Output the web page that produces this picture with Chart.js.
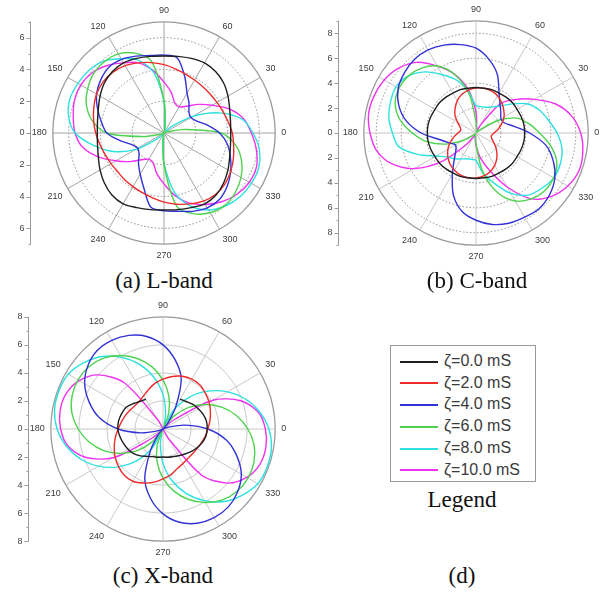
<!DOCTYPE html>
<html>
<head>
<meta charset="utf-8">
<script src="https://cdn.jsdelivr.net/npm/chart.js@4.4.4/dist/chart.umd.min.js"></script>
<style>
  body { margin: 0; background: #fff; }
  #page { position: relative; width: 602px; height: 592px; overflow: hidden; background: #fff; }
  canvas { position: absolute; }
  .cap { position: absolute; width: 200px; text-align: center; font: 23px "Liberation Serif", "Times New Roman", serif; color: #111; line-height: 26px; }
  #legend { position: absolute; left: 390px; top: 345px; width: 146px; height: 137px; box-sizing: border-box; border: 1px solid #999; }
  .row { position: absolute; left: 9px; height: 20px; line-height: 20px; white-space: nowrap; font: 16px "Liberation Sans", Arial, sans-serif; color: #3a3a3a; }
  .sw { display: inline-block; width: 38px; height: 2px; vertical-align: middle; margin-right: 6px; }
</style>
</head>
<body>
<div id="page">
  <canvas id="chartL"></canvas>
  <canvas id="chartC"></canvas>
  <canvas id="chartX"></canvas>
  <div class="cap" style="left:64px;top:268px">(a) L-band</div>
  <div class="cap" style="left:377px;top:268px">(b) C-band</div>
  <div class="cap" style="left:63px;top:563px">(c) X-band</div>
  <div class="cap" style="left:362px;top:563px">(d)</div>
  <div class="cap" style="left:362px;top:487px">Legend</div>
  <div id="legend"></div>
</div>
<script>
// angle of every sample, degrees (0 = right, counter-clockwise)
const angles = [0,10,20,30,40,50,60,70,80,90,100,110,120,130,140,150,160,170,
                180,190,200,210,220,230,240,250,260,270,280,290,300,310,320,330,340,350];

const seriesNames = ['ζ=0.0 mS', 'ζ=2.0 mS', 'ζ=4.0 mS', 'ζ=6.0 mS', 'ζ=8.0 mS', 'ζ=10.0 mS'];
const seriesColors = ['#1e1e1e', '#ee2b2b', '#3232d6', '#4fd24f', '#2fe0e0', '#f032f0'];

// L-band
const lZeta0  = [4.2,4.25,4.4,4.65,4.9,5.05,5.1,5.0,4.9,4.85,4.9,5.0,5.1,5.05,4.9,4.65,4.4,4.25,
                 4.2,4.25,4.4,4.65,4.9,5.1,5.15,5.0,4.9,4.85,4.9,5.0,5.15,5.1,4.9,4.65,4.4,4.25];
const lZeta2  = [4.3,4.1,3.95,3.85,3.8,3.8,3.85,3.95,4.1,4.3,4.5,4.7,4.9,5.0,5.0,4.9,4.7,4.5,
                 4.3,4.1,3.95,3.85,3.8,3.85,3.9,4.0,4.15,4.35,4.55,4.75,4.95,5.05,5.0,4.85,4.65,4.45];
const lZeta4  = [3.5,2.8,2.2,1.95,2.05,2.45,2.9,3.8,4.8,4.9,4.95,5.15,5.35,5.4,5.2,4.9,4.45,4.0,
                 3.6,2.8,2.15,1.9,2.05,2.5,3.0,3.7,4.75,4.9,5.0,5.25,5.45,5.45,5.2,4.85,4.45,4.05];
const lZeta6  = [3.6,1.3,0.2,0,0,0,0,0,0.2,2.0,4.6,5.35,5.75,5.85,5.8,5.55,5.2,4.6,
                 3.6,1.3,0.2,0,0,0,0,0,0.2,2.0,4.7,5.4,5.8,5.95,5.85,5.6,5.2,4.6];
const lZeta8  = [5.6,5.0,3.7,2.1,0.7,0.1,0,0.1,0.5,2.0,3.9,4.9,5.4,5.9,6.15,6.25,6.3,6.1,
                 5.6,4.5,3.4,2.1,0.6,0.1,0,0.1,0.5,1.9,3.8,4.9,5.6,6.0,6.25,6.35,6.35,6.1];
const lZeta10 = [5.5,5.1,4.4,3.5,2.8,2.2,1.9,2.0,2.6,3.2,4.0,4.7,5.1,5.55,5.9,6.05,6.0,5.8,
                 5.6,5.2,4.4,3.5,2.8,2.2,1.9,2.0,2.6,3.2,4.0,4.7,5.2,5.65,6.0,6.2,6.2,5.9];

// C-band
const cZeta0  = [3.9,3.9,3.85,3.8,3.8,3.75,3.7,3.7,3.65,3.65,3.65,3.7,3.7,3.75,3.8,3.8,3.85,3.9,
                 3.9,3.9,3.85,3.8,3.8,3.75,3.7,3.7,3.65,3.65,3.65,3.7,3.7,3.75,3.8,3.8,3.85,3.9];
const cZeta2  = [1.45,1.8,2.2,2.6,2.9,3.2,3.45,3.6,3.65,3.6,3.5,3.3,3.0,2.6,2.2,1.7,1.35,1.25,
                 1.45,1.8,2.2,2.6,2.95,3.25,3.45,3.6,3.65,3.6,3.5,3.3,3.0,2.6,2.15,1.7,1.35,1.25];
const cZeta4  = [4.3,3.1,2.4,2.3,2.6,3.0,3.7,5.0,6.0,6.8,7.2,7.5,7.7,7.7,7.5,7.2,6.6,5.7,
                 4.4,3.0,2.3,1.9,2.1,2.7,3.8,5.3,6.4,7.0,7.45,7.7,7.8,7.9,7.7,7.3,6.6,5.7];
const cZeta6  = [5.1,4.3,3.5,2.0,0.4,0.1,0.1,0.1,0.2,0.9,3.2,5.0,6.2,6.8,7.1,7.15,6.9,6.2,
                 5.1,4.0,2.6,1.2,0.3,0.1,0.1,0.1,0.2,0.9,3.2,5.1,6.3,6.9,7.2,7.2,6.9,6.1];
const cZeta8  = [6.5,5.9,5.4,4.7,3.6,2.8,2.4,2.2,2.15,2.2,3.3,4.5,5.4,6.4,7.1,7.4,7.3,7.1,
                 6.7,6.3,5.0,3.7,3.0,2.7,2.4,2.2,2.15,2.2,3.3,4.3,5.6,6.5,6.9,7.2,7.2,7.0];
const cZeta10 = [8.4,7.8,6.8,5.4,4.2,3.1,0.8,0.2,0.3,1.7,3.5,5.0,6.2,7.4,8.1,8.5,8.7,8.75,
                 8.5,8.1,7.2,5.7,3.5,1.2,0.2,0.2,0.4,1.0,2.0,3.2,5.0,6.9,7.9,8.5,8.8,8.7];

// X-band
const xZeta0  = [3.15,3.15,3.05,2.9,2.75,2.56,2.45,null,null,null,null,null,2.45,2.56,2.8,3.06,3.15,3.22,
                 3.22,3.12,3.0,2.88,2.73,2.5,2.25,2.1,2.05,2.0,2.05,2.1,2.2,2.35,2.55,2.75,2.95,3.1];
const xZeta2  = [3.2,3.4,3.6,3.8,3.95,4.1,4.1,4.0,3.8,3.55,3.3,3.0,2.75,2.6,2.6,2.7,2.85,3.0,
                 3.2,3.45,3.7,3.95,4.15,4.3,4.3,4.1,3.85,3.55,3.3,3.0,2.85,2.75,2.75,2.8,2.9,3.05];
const xZeta4  = [3.2,1.6,0.4,0,0,0.5,1.8,3.8,5.0,6.0,6.7,7.1,7.3,7.3,7.0,6.45,5.6,4.6,
                 3.2,1.6,0.4,0,0,0.5,1.8,3.8,5.05,6.05,6.75,7.15,7.3,7.25,6.95,6.45,5.6,4.6];
const xZeta6  = [6.05,5.35,4.5,3.5,2.4,1.2,0.05,1.2,2.4,3.5,4.5,5.35,6.05,6.6,6.9,7.0,6.9,6.6,
                 6.05,5.35,4.5,3.5,2.4,1.2,0.05,1.2,2.4,3.5,4.5,5.35,6.05,6.6,6.9,7.0,6.9,6.6];
const xZeta8  = [7.55,7.0,6.25,5.3,4.2,3.0,1.65,0.3,1.1,2.45,3.75,4.9,5.9,6.75,7.35,7.8,7.9,7.85,
                 7.55,7.0,6.25,5.3,4.2,3.0,1.65,0.3,1.1,2.45,3.75,4.9,5.9,6.75,7.35,7.8,7.9,7.85];
const xZeta10 = [7.3,6.9,5.9,4.1,1.0,0.1,0,0,0,0,0,0.1,0.8,4.3,6.0,6.9,7.35,7.45,
                 7.3,6.9,5.9,4.1,1.0,0.1,0,0,0,0,0,0.1,0.8,4.3,6.0,6.9,7.35,7.45];

// grid circles (last one is the outer rim) and left-axis tick labels
const lRings = [0,2,4,6,7];
const cRings = [0,2,4,6,8,9];
const xRings = [0,2,4,6,8];
const lAxisTicks = [-6,-4,-2,0,2,4,6];
const cAxisTicks = [-8,-6,-4,-2,0,2,4,6,8];
const xAxisTicks = [-8,-6,-4,-2,0,2,4,6,8];

// radar draws clockwise from the top, so list the angles 90, 80, ... 0, 350, ... 100
const order = angles.map((a, k) => (90 - 10 * k + 360) % 360);
const reorder = arr => order.map(a => arr[angles.indexOf(a)]);

// vertical value axis on the left, placed with the radial scale
const leftAxis = {
  id: 'leftAxis',
  afterDraw(chart, args, opts) {
    const r = chart.scales.r;
    const ctx = chart.ctx;
    const x = Math.round(r.xCenter - opts.offset) + 0.5;
    const yAt = v => r.yCenter - Math.sign(v) * r.getDistanceFromCenterForValue(Math.abs(v));
    ctx.save();
    ctx.strokeStyle = '#9a9a9a';
    ctx.lineWidth = 1;
    ctx.beginPath();
    ctx.moveTo(x, yAt(r.max));
    ctx.lineTo(x, yAt(-r.max));
    for (let v = -Math.floor(r.max); v <= Math.floor(r.max); v++) {
      const y = Math.round(yAt(v)) + 0.5;
      ctx.moveTo(x - (v % 2 === 0 ? 4 : 2), y);
      ctx.lineTo(x, y);
    }
    ctx.stroke();
    ctx.fillStyle = '#444';
    ctx.font = '9px "Liberation Sans", Arial, sans-serif';
    ctx.textAlign = 'right';
    ctx.textBaseline = 'middle';
    opts.ticks.forEach(v => ctx.fillText(String(Math.abs(v)), x - 6, yAt(v)));
    ctx.restore();
  }
};

function config(series, rings, axisTicks, look) {
  const max = rings[rings.length - 1];
  return {
    type: 'radar',
    data: {
      labels: order,
      datasets: series.map((s, i) => ({
        label: seriesNames[i],
        data: reorder(s),
        borderColor: seriesColors[i],
        borderWidth: 1.4,
        pointRadius: 0,
        fill: false,
        tension: 0.3,
        spanGaps: false
      }))
    },
    options: {
      responsive: false,
      maintainAspectRatio: false,
      animation: false,
      plugins: {
        legend: { display: false },
        tooltip: { enabled: false },
        leftAxis: { offset: look.axisOffset, ticks: axisTicks }
      },
      scales: {
        r: {
          min: 0,
          max: max,
          startAngle: 0,
          afterBuildTicks: scale => { scale.ticks = rings.map(v => ({ value: v })); },
          ticks: { display: false },
          grid: {
            circular: true,
            color: ctx => ctx.tick && ctx.tick.value === max ? look.outer : look.ring,
            lineWidth: ctx => ctx.tick && ctx.tick.value === max ? 1.3 : 1
          },
          border: { dash: ctx => ctx.tick && ctx.tick.value === max ? [] : look.dash },
          angleLines: {
            color: ctx => ctx.index % 3 === 0 ? look.spoke : 'transparent',
            lineWidth: 1
          },
          pointLabels: {
            padding: 6,
            color: '#3a3a3a',
            font: { size: 9, family: '"Liberation Sans", Arial, sans-serif' },
            callback: v => v % 30 === 0 ? String(v) : ''
          }
        }
      }
    },
    plugins: [leftAxis]
  };
}

function buildPolar(id, series, rings, axisTicks, look) {
  const canvas = document.getElementById(id);
  const make = h => {
    canvas.width = 330;
    canvas.height = h;
    return new Chart(canvas, config(series, rings, axisTicks, look));
  };
  let chart = make(260);
  const h = Math.round(260 + 2 * (look.radius - chart.scales.r.drawingArea));
  chart.destroy();
  chart = make(h);
  const r = chart.scales.r;
  canvas.style.left = Math.round(look.cx - r.xCenter) + 'px';
  canvas.style.top = Math.round(look.cy - r.yCenter) + 'px';
  return chart;
}

buildPolar('chartL', [lZeta0, lZeta2, lZeta4, lZeta6, lZeta8, lZeta10], lRings, lAxisTicks,
  { cx: 164, cy: 133, radius: 111, axisOffset: 134, ring: '#8a8a8a', dash: [1.5, 2], outer: '#9a9a9a', spoke: '#a4a4a4' });
buildPolar('chartC', [cZeta0, cZeta2, cZeta4, cZeta6, cZeta8, cZeta10], cRings, cAxisTicks,
  { cx: 476, cy: 133, radius: 112, axisOffset: 138, ring: '#8a8a8a', dash: [1.5, 2], outer: '#9a9a9a', spoke: '#c6c6c6' });
buildPolar('chartX', [xZeta0, xZeta2, xZeta4, xZeta6, xZeta8, xZeta10], xRings, xAxisTicks,
  { cx: 163, cy: 429, radius: 112, axisOffset: 135, ring: '#c8c8c8', dash: [], outer: '#9a9a9a', spoke: '#c8c8c8' });

// legend panel (d)
const legendEl = document.getElementById('legend');
seriesNames.forEach((name, i) => {
  const row = document.createElement('div');
  row.className = 'row';
  row.style.top = (6 + i * 21.7) + 'px';
  row.innerHTML = '<span class="sw" style="background:' + seriesColors[i] + '"></span>' + name;
  legendEl.appendChild(row);
});
</script>
</body>
</html>
